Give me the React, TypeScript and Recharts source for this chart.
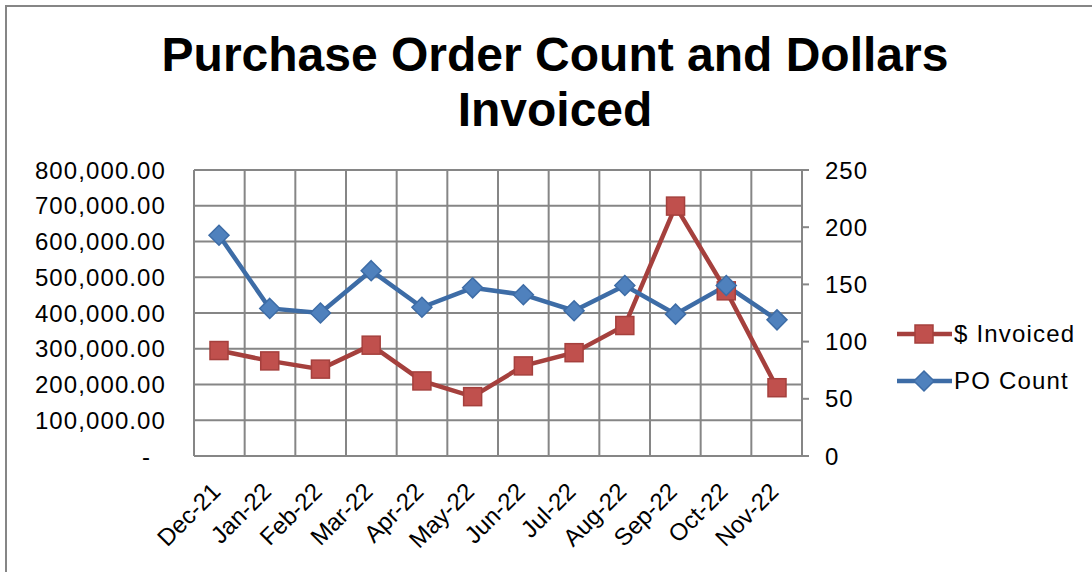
import React from 'react';
import { LineChart, Line, XAxis, YAxis, CartesianGrid, Legend } from 'recharts';

const months = ['Dec-21', 'Jan-22', 'Feb-22', 'Mar-22', 'Apr-22', 'May-22', 'Jun-22', 'Jul-22', 'Aug-22', 'Sep-22', 'Oct-22', 'Nov-22'];
const invoiced = [295000, 266000, 243000, 310000, 210000, 166000, 252000, 289000, 365000, 699000, 462000, 191000];
const poCount = [193, 129, 125, 162, 130, 147, 141, 127, 149, 124, 149, 119];
const dollarTicks = [0, 100000, 200000, 300000, 400000, 500000, 600000, 700000, 800000];
const countTicks = [0, 50, 100, 150, 200, 250];

const data = months.map((month, i) => ({ month, invoiced: invoiced[i], po: poCount[i] }));

const FONT = '"Liberation Sans", Arial, sans-serif';
const GRID = '#868686';
const RED_LINE = '#A5403D';
const RED_FILL = '#C0504D';
const BLUE_LINE = '#3D6CA6';
const BLUE_FILL = '#4F81BD';

const fmtDollars = (v: number) =>
  v.toLocaleString('en-US', { minimumFractionDigits: 2, maximumFractionDigits: 2 });

function LeftTick({ x, y, payload }: any) {
  const zero = payload.value === 0;
  return (
    <text x={zero ? x - 15 : x} y={y} dy="0.36em" textAnchor="end" fill="#000" fontSize={24} fontFamily={FONT} letterSpacing={1.1}>
      {zero ? '-' : fmtDollars(payload.value)}
    </text>
  );
}

function RightTick({ x, y, payload }: any) {
  return (
    <text x={x} y={y} dy="0.36em" textAnchor="start" fill="#000" fontSize={24} fontFamily={FONT} letterSpacing={1}>
      {payload.value}
    </text>
  );
}

function MonthTick({ x, y, payload }: any) {
  return (
    <g transform={`translate(${x + 3},${y + 37})`}>
      <text transform="rotate(-45)" textAnchor="end" fill="#000" fontSize={24} fontFamily={FONT}>
        {payload.value}
      </text>
    </g>
  );
}

const Square = ({ cx, cy, index }: any) => (
  <rect key={`sq-${index}`} x={cx - 9} y={cy - 9} width={18} height={18} fill={RED_FILL} stroke={RED_LINE} strokeWidth={1.5} />
);

const Diamond = ({ cx, cy, index }: any) => (
  <polygon
    key={`dm-${index}`}
    points={`${cx},${cy - 10} ${cx + 10},${cy} ${cx},${cy + 10} ${cx - 10},${cy}`}
    fill={BLUE_FILL}
    stroke={BLUE_LINE}
    strokeWidth={1.5}
  />
);

function LegendBox({ payload }: any) {
  return (
    <div style={{ fontFamily: FONT, fontSize: 24, letterSpacing: 1.2 }}>
      {(payload || []).map((entry: any) => {
        const isDollar = entry.dataKey === 'invoiced';
        const line = isDollar ? RED_LINE : BLUE_LINE;
        return (
          <div key={entry.value} style={{ display: 'flex', alignItems: 'center', height: 47 }}>
            <svg width={58} height={24} style={{ marginRight: 1 }}>
              <line x1={2} y1={12} x2={57} y2={12} stroke={line} strokeWidth={4.5} />
              {isDollar ? (
                <rect x={20} y={3} width={18} height={18} fill={RED_FILL} stroke={RED_LINE} strokeWidth={1.5} />
              ) : (
                <polygon points="29,2 39,12 29,22 19,12" fill={BLUE_FILL} stroke={BLUE_LINE} strokeWidth={1.5} />
              )}
            </svg>
            <span style={{ color: '#000' }}>{entry.value}</span>
          </div>
        );
      })}
    </div>
  );
}

export default function App() {
  return (
    <div style={{ position: 'absolute', left: 0, top: 0, width: 1092, height: 572, overflow: 'hidden', background: '#fff' }}>
      <div style={{ position: 'absolute', left: 5, top: 5, width: 1200, height: 700, borderTop: `2px solid ${GRID}`, borderLeft: `2px solid ${GRID}` }} />
      <div
        style={{
          position: 'absolute',
          left: 0,
          top: 27,
          width: 1110,
          textAlign: 'center',
          fontFamily: FONT,
          fontWeight: 'bold',
          fontSize: 48,
          lineHeight: '55px',
          color: '#000',
        }}
      >
        Purchase Order Count and Dollars
        <br />
        Invoiced
      </div>
      <div style={{ position: 'absolute', left: 0, top: 0 }}>
        <LineChart width={1092} height={572} data={data} margin={{ top: 170, right: 210, bottom: 0, left: 0 }}>
          <CartesianGrid
            yAxisId="left"
            stroke={GRID}
            strokeWidth={2}
            verticalCoordinatesGenerator={({ offset }: any) =>
              Array.from({ length: months.length + 1 }, (_, i) => offset.left + (i * offset.width) / months.length)
            }
          />
          <XAxis
            dataKey="month"
            interval={0}
            padding={{ left: 25, right: 25 }}
            tickLine={false}
            tickSize={0}
            tickMargin={0}
            axisLine={{ stroke: GRID, strokeWidth: 2 }}
            height={116}
            tick={<MonthTick />}
          />
          <YAxis
            yAxisId="left"
            width={194}
            domain={[0, 800000]}
            ticks={dollarTicks}
            tickLine={false}
            tickMargin={22}
            axisLine={{ stroke: GRID, strokeWidth: 2 }}
            tick={<LeftTick />}
          />
          <YAxis
            yAxisId="right"
            orientation="right"
            width={80}
            domain={[0, 250]}
            ticks={countTicks}
            tickSize={7}
            tickMargin={16}
            tickLine={{ stroke: GRID, strokeWidth: 2 }}
            axisLine={{ stroke: GRID, strokeWidth: 2 }}
            tick={<RightTick />}
          />
          <Legend
            layout="horizontal"
            verticalAlign="middle"
            align="center"
            content={<LegendBox />}
            wrapperStyle={{ left: 895, top: 310, width: 197 }}
          />
          <Line
            yAxisId="left"
            type="linear"
            dataKey="invoiced"
            name="$ Invoiced"
            stroke={RED_LINE}
            strokeWidth={4.5}
            dot={Square}
            activeDot={false}
            isAnimationActive={false}
          />
          <Line
            yAxisId="right"
            type="linear"
            dataKey="po"
            name="PO Count"
            stroke={BLUE_LINE}
            strokeWidth={4.5}
            dot={Diamond}
            activeDot={false}
            isAnimationActive={false}
          />
        </LineChart>
      </div>
    </div>
  );
}
